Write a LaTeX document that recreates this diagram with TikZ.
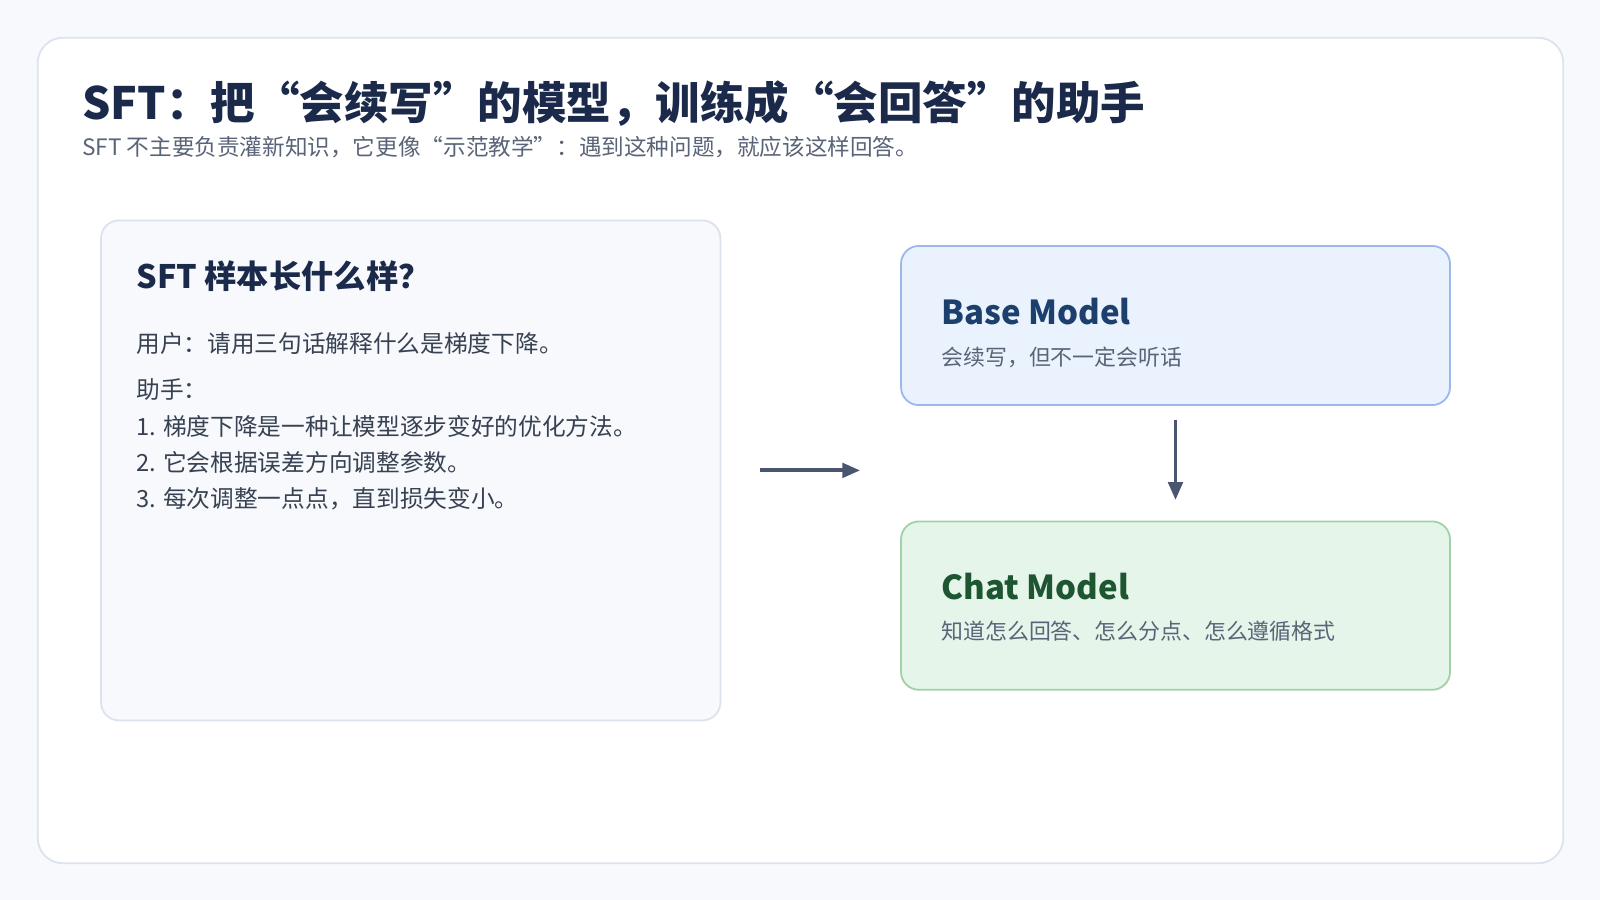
\documentclass[tikz,border=0pt]{standalone}
\usepackage{fontspec}
\setmainfont{Noto Sans CJK SC}
\usetikzlibrary{arrows.meta,positioning}
\definecolor{pagebg}{HTML}{F7F9FC}
\definecolor{cardline}{HTML}{DCE3EE}
\definecolor{navy}{HTML}{1B2A4A}
\definecolor{greytext}{HTML}{5A6478}
\definecolor{bodytext}{HTML}{374151}
\definecolor{arrowcol}{HTML}{4A5570}
\definecolor{basefill}{HTML}{EAF3FD}
\definecolor{baseline}{HTML}{9DB8E8}
\definecolor{basetitle}{HTML}{1C3F6E}
\definecolor{chatfill}{HTML}{E6F5EA}
\definecolor{chatline}{HTML}{9ED3A9}
\definecolor{chattitle}{HTML}{1E5631}
\begin{document}
\begin{tikzpicture}
	[x=0.01cm,y=-0.01cm,
	%Styles
	panel/.style={rounded corners=5pt,line width=0.5pt},
	txt/.style={anchor=base west,inner sep=0pt},
	flow/.style={-{Triangle[length=5pt,width=4pt]},line width=1.1pt,draw=arrowcol}
	]
	
	%Background and card
	\fill[pagebg] (0,0) rectangle (1568,882);
	\useasboundingbox (0,0) rectangle (1568,882);
	\draw[panel,rounded corners=7pt,fill=white,draw=cardline] (37,37) rectangle (1532,846);
	
	%Title
	\node[txt,font=\fontsize{12.4}{15}\bfseries,text=navy] (title) at (80,117) {SFT：把“会续写”的模型，训练成“会回答”的助手};
	\node[txt,font=\fontsize{6.3}{8}\selectfont,text=greytext] (subtitle) at (80,152) {SFT 不主要负责灌新知识，它更像“示范教学”：遇到这种问题，就应该这样回答。};
	
	%Sample panel
	\draw[panel,fill=pagebg,draw=cardline] (99,216) rectangle (706,706);
	\node[txt,font=\fontsize{9}{11}\bfseries,text=navy] (sample) at (133,283) {SFT 样本长什么样？};
	\foreach \y/\t in {345/用户：请用三句话解释什么是梯度下降。,
		391/助手：,
		427/1. 梯度下降是一种让模型逐步变好的优化方法。,
		462/2. 它会根据误差方向调整参数。,
		497/3. 每次调整一点点，直到损失变小。}
	{
		\node[txt,font=\fontsize{6.6}{8}\selectfont,text=bodytext] at (133,\y) {\t};
	}
	
	%Model boxes
	\draw[panel,fill=basefill,draw=baseline] (883,241) rectangle (1421,397);
	\node[txt,font=\fontsize{9.2}{11}\bfseries,text=basetitle] (basename) at (922,318) {Base Model};
	\node[txt,font=\fontsize{6.1}{8}\selectfont,text=greytext] (basenote) at (922,358) {会续写，但不一定会听话};
	
	\draw[panel,fill=chatfill,draw=chatline] (883,511) rectangle (1421,676);
	\node[txt,font=\fontsize{9.2}{11}\bfseries,text=chattitle] (chatname) at (922,588) {Chat Model};
	\node[txt,font=\fontsize{6.1}{8}\selectfont,text=greytext] (chatnote) at (922,627) {知道怎么回答、怎么分点、怎么遵循格式};
	
	%Arrows
	\coordinate (sampleout) at (745,461);
	\coordinate (modelin) at (843,461);
	\coordinate (baseout) at (1152,412);
	\coordinate (chatin) at (1152,490);
	\draw[flow] (sampleout) -- (modelin);
	\draw[flow] (baseout) -- (chatin);
\end{tikzpicture}
\end{document}
